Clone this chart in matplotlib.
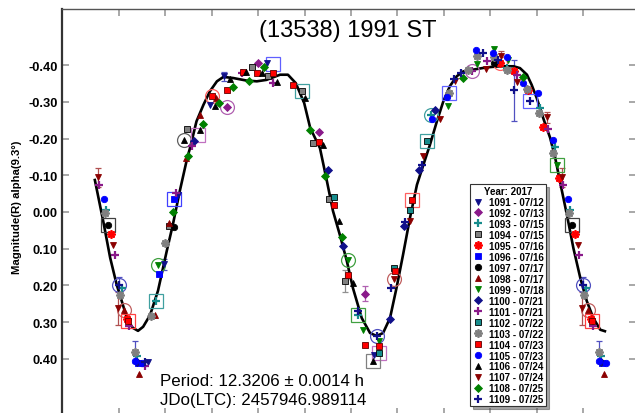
"""Phase-folded lightcurve of (13538) 1991 ST, MPO Canopus style."""
import numpy as np
import matplotlib
matplotlib.use("Agg")
import matplotlib.pyplot as plt  # noqa: E402
from matplotlib.lines import Line2D  # noqa: E402

plt.rcParams["font.family"] = ["Liberation Sans", "DejaVu Sans"]

# ---- data (phase 0..1, reduced R magnitude) ----
p1091 = [0.063, 0.096, 0.128, 0.196, 0.227, 0.318, 0.550]
m1091 = [0.409, 0.142, -0.045, -0.292, -0.370, -0.406, 0.390]
p1092 = [0.232, 0.300, 0.430, 0.530]
m1092 = [-0.285, -0.406, -0.218, 0.223]
p1093 = [0.672, 0.837, 0.907, 0.940, 0.972, 0.006, 0.038, 0.080, 0.516]
m1093 = [-0.263, -0.392, -0.283, -0.176, -0.006, 0.207, 0.393, 0.243, 0.280]
p1094 = [0.108, 0.146, 0.287, 0.322, 0.394, 0.419, 0.453, 0.487]
m1094 = [0.039, -0.227, -0.395, -0.370, -0.330, -0.188, -0.036, 0.189]
p1095 = [0.820, 0.851, 0.882, 0.914, 0.949, 0.983, 0.018]
m1095 = [-0.406, -0.383, -0.333, -0.231, -0.093, 0.060, 0.293]
p1096 = [0.041, 0.087, 0.119]
m1096 = [0.411, 0.169, -0.034]
p1097 = [0.119, 0.809, 0.977]
m1097 = [0.042, -0.406, 0.036]
p1098 = [0.011, 0.044, 0.078, 0.108, 0.144, 0.175, 0.209]
m1098 = [0.266, 0.443, 0.280, 0.030, -0.147, -0.265, -0.311]
p1099 = [0.083, 0.493, 0.525, 0.561, 0.708, 0.772, 0.807, 0.839, 0.943]
m1099 = [0.145, 0.130, 0.321, 0.352, -0.288, -0.403, -0.444, -0.415, -0.129]
p1100 = [0.038, 0.162, 0.450, 0.482, 0.583, 0.614, 0.647, 0.681]
m1100 = [0.409, -0.193, -0.113, 0.094, 0.293, 0.039, -0.115, -0.279]
p1101 = [0.022, 0.056, 0.123, 0.158, 0.264, 0.331, 0.760, 0.792, 0.857,
         0.925, 0.956, 0.991]
m1101 = [0.311, 0.420, -0.052, -0.179, -0.379, -0.351, -0.383, -0.412,
         -0.372, -0.227, -0.074, 0.116]
p1102 = [0.463, 0.561, 0.593, 0.626, 0.663]
m1102 = [-0.040, 0.384, 0.153, -0.004, -0.193]
p1103 = [0.002, 0.035, 0.070, 0.099, 0.712, 0.753, 0.772, 0.807, 0.837,
         0.880, 0.904, 0.936, 0.970]
m1103 = [0.225, 0.381, 0.284, 0.084, -0.324, -0.388, -0.424, -0.422, -0.388,
         -0.335, -0.270, -0.161, 0.003]
p1104 = [0.020, 0.200, 0.232, 0.267, 0.297, 0.331, 0.375, 0.430, 0.464,
         0.494, 0.529, 0.561, 0.595, 0.632]
m1104 = [0.296, -0.315, -0.331, -0.381, -0.379, -0.379, -0.345, -0.191,
         -0.020, 0.173, 0.363, 0.366, 0.160, -0.032]
p1105 = [0.034, 0.049, 0.674, 0.706, 0.770, 0.805, 0.837, 0.870, 0.902,
         0.936, 0.968]
m1105 = [0.407, 0.411, -0.252, -0.312, -0.442, -0.433, -0.422, -0.351,
         -0.324, -0.197, -0.035]
p1106 = [0.141, 0.175, 0.207, 0.239, 0.274, 0.308, 0.340, 0.400, 0.440,
         0.473, 0.505, 0.548]
m1106 = [-0.196, -0.222, -0.290, -0.361, -0.381, -0.379, -0.354, -0.310,
         -0.182, 0.024, 0.193, 0.405]
p1107 = [0.593, 0.626, 0.656, 0.692, 0.724, 0.791, 0.823, 0.857, 0.923,
         0.955, 0.988, 0.997]
m1107 = [0.184, 0.025, -0.152, -0.252, -0.356, -0.390, -0.424, -0.354,
         -0.258, -0.095, 0.089, 0.262]
p1108 = [0.116, 0.149, 0.182, 0.216, 0.246, 0.281, 0.313, 0.412, 0.444,
         0.480, 0.741, 0.871]
m1108 = [0.000, -0.153, -0.241, -0.297, -0.340, -0.358, -0.395, -0.224,
         -0.097, 0.069, -0.365, -0.367]
p1109 = [0.056, 0.514, 0.555, 0.586, 0.616, 0.652, 0.722, 0.738, 0.785,
         0.817, 0.851, 0.886, 0.999]
m1109 = [0.409, 0.269, 0.339, 0.207, 0.028, -0.129, -0.363, -0.379, -0.432,
         -0.415, -0.331, -0.302, 0.198]

# error bars: phase, mag, sigma, colour
err_phase = [0.955, 0.997, 0.999, 0.035, 0.096, 0.227, 0.487, 0.530, 0.851,
             0.823, 0.923]
err_mag = [-0.095, 0.262, 0.198, 0.381, 0.142, -0.370, 0.189, 0.223, -0.331,
           -0.424, -0.258]
err_sig = [0.026, 0.045, 0.020, 0.030, 0.015, 0.012, 0.030, 0.020, 0.083,
           0.015, 0.015]
err_col = ["#b05050", "#b05050", "#5050c0", "#5050c0", "#5050c0", "#5050c0",
           "#909090", "#b060b0", "#5050c0", "#b05050", "#b05050"]

# large open marks (first point of a session)
ring_phase = [0.999, 0.011, 0.020, 0.080, 0.083, 0.119, 0.141, 0.171, 0.200,
              0.232, 0.331, 0.394, 0.493, 0.516, 0.555, 0.561, 0.548, 0.593,
              0.632, 0.663, 0.672, 0.712, 0.760, 0.820, 0.886, 0.943, 0.977]
ring_mag = [0.198, 0.266, 0.296, 0.243, 0.145, -0.034, -0.196, -0.209, -0.315,
            -0.285, -0.403, -0.330, 0.130, 0.280, 0.339, 0.384, 0.405, 0.184,
            -0.032, -0.193, -0.263, -0.324, -0.383, -0.406, -0.302, -0.129,
            0.036]
ring_shape = ["o", "o", "s", "s", "o", "s", "o", "s", "o", "o", "s", "s", "o",
              "s", "o", "s", "s", "o", "s", "s", "o", "s", "o", "o", "s", "s",
              "s"]
ring_col = ["#5050c0", "#c06060", "#ff4040", "#40a0a0", "#40a040", "#4040ff",
            "#606060", "#c070c0", "#ff6060", "#b060b0", "#6060ff", "#40a0a0",
            "#40a040", "#40a040", "#5050c0", "#c070c0", "#808080", "#c06060",
            "#ff6060", "#40a0a0", "#40a0a0", "#6060ff", "#b060b0", "#ff6060",
            "#6060ff", "#40a040", "#404040"]

# Fourier fit
fit_phase = [-0.052, -0.034, -0.019, -0.005, 0.019, 0.030, 0.041, 0.052, 0.067,
             0.084, 0.103, 0.116, 0.131, 0.147, 0.153, 0.167, 0.182, 0.196,
             0.211, 0.225, 0.246, 0.275, 0.297, 0.318, 0.347, 0.364, 0.381,
             0.399, 0.412, 0.433, 0.448, 0.461, 0.476, 0.491, 0.504, 0.523,
             0.541, 0.555, 0.569, 0.584, 0.598, 0.612, 0.627, 0.642, 0.656,
             0.670, 0.685, 0.699, 0.713, 0.728, 0.742, 0.764, 0.792, 0.821,
             0.850, 0.864, 0.879, 0.889, 0.900, 0.914, 0.929, 0.940, 0.950,
             0.965, 0.979, 0.994, 1.008, 1.022, 1.037, 1.047]
fit_mag = [-0.087, 0.025, 0.125, 0.198, 0.297, 0.316, 0.324, 0.313, 0.281,
           0.215, 0.106, 0.035, -0.057, -0.147, -0.174, -0.247, -0.292, -0.329,
           -0.356, -0.368, -0.365, -0.358, -0.356, -0.360, -0.374, -0.374,
           -0.351, -0.297, -0.229, -0.174, -0.084, -0.003, 0.063, 0.134, 0.207,
           0.289, 0.330, 0.338, 0.330, 0.289, 0.207, 0.117, 0.016, -0.074,
           -0.129, -0.183, -0.247, -0.302, -0.343, -0.370, -0.383, -0.388,
           -0.394, -0.397, -0.397, -0.392, -0.374, -0.347, -0.311, -0.256,
           -0.202, -0.147, -0.084, 0.007, 0.098, 0.180, 0.243, 0.289, 0.321,
           0.325]

y_ticks = [-0.4, -0.3, -0.2, -0.1, 0.0, 0.1, 0.2, 0.3, 0.4]
y_labels = ["-0.40", "-0.30", "-0.20", "-0.10", "0.00", "0.10", "0.20",
            "0.30", "0.40"]

NAVY, PURPLE, TEAL, GREY = "#10108a", "#8a1a8a", "#168c8c", "#808080"
RED, BLUE, DRED, GREEN = "#ff0000", "#0000ff", "#8b0000", "#008000"

sessions = [
    ("1091 - 07/12", p1091, m1091, dict(marker="v", color=NAVY)),
    ("1092 - 07/13", p1092, m1092, dict(marker="D", color=PURPLE, ms=3.6)),
    ("1093 - 07/15", p1093, m1093, dict(marker="+", color=TEAL, mew=1.6, ms=6)),
    ("1094 - 07/15", p1094, m1094, dict(marker="s", color=GREY, mec="k")),
    ("1095 - 07/16", p1095, m1095, dict(marker=(8, 2, 0), color=RED, mew=1.3, ms=6)),
    ("1096 - 07/16", p1096, m1096, dict(marker="s", color=BLUE)),
    ("1097 - 07/17", p1097, m1097, dict(marker="o", color="k")),
    ("1098 - 07/17", p1098, m1098, dict(marker="^", color=DRED)),
    ("1099 - 07/18", p1099, m1099, dict(marker="v", color=GREEN)),
    ("1100 - 07/21", p1100, m1100, dict(marker="D", color=NAVY, ms=3.6)),
    ("1101 - 07/21", p1101, m1101, dict(marker="+", color=PURPLE, mew=1.6, ms=6)),
    ("1102 - 07/22", p1102, m1102, dict(marker="s", color=TEAL, mec="k")),
    ("1103 - 07/22", p1103, m1103, dict(marker=(8, 2, 0), color=GREY, mew=1.3, ms=6)),
    ("1104 - 07/23", p1104, m1104, dict(marker="s", color=RED, mec="#600000")),
    ("1105 - 07/23", p1105, m1105, dict(marker="o", color=BLUE)),
    ("1106 - 07/24", p1106, m1106, dict(marker="^", color="k")),
    ("1107 - 07/24", p1107, m1107, dict(marker="v", color=DRED)),
    ("1108 - 07/25", p1108, m1108, dict(marker="D", color=GREEN, ms=3.6)),
    ("1109 - 07/25", p1109, m1109, dict(marker="+", color=NAVY, mew=1.6, ms=6)),
]


def wrap_idx(ph):
    """Copies needed so the folded curve runs from -0.05 to 1.05."""
    out = []
    for i, p in enumerate(ph):
        out.append((i, p))
        if p >= 0.95:
            out.append((i, p - 1))
        if p < 0.05:
            out.append((i, p + 1))
    return out


def style(kw):
    out = dict(linestyle="none", ms=4.6, mew=0.6)
    out.update(kw)
    c = out.pop("color")
    out.setdefault("mfc", c)
    out.setdefault("mec", c)
    out["color"] = c
    return out


def main():
    W, H = 635, 414
    fig = plt.figure(figsize=(W / 100, H / 100), dpi=100)
    x0, x1, y0, y1 = 62, 636, 10, 416
    ax = fig.add_axes([x0 / W, 1 - y1 / H, (x1 - x0) / W, (y1 - y0) / H])

    # fit curve
    ax.plot(fit_phase, fit_mag, color="k", lw=1.9, zorder=3)

    # error bars
    for i, xp in wrap_idx(err_phase):
        ax.errorbar(xp, err_mag[i], yerr=err_sig[i], fmt="none",
                    ecolor=err_col[i], elinewidth=0.9, capsize=2.2,
                    capthick=0.9, zorder=2)

    # highlight rings
    for i, xp in wrap_idx(ring_phase):
        ax.plot(xp, ring_mag[i], linestyle="none", marker=ring_shape[i],
                ms=10 if ring_shape[i] == "o" else 9.5, mfc="none",
                mec=ring_col[i], mew=0.9, zorder=4)

    handles = []
    for label, ph, mg, kw in sessions:
        pairs = wrap_idx(ph)
        st = style(kw)
        ax.plot([p for _, p in pairs], [mg[i] for i, _ in pairs],
                zorder=5, **st)
        handles.append(Line2D([0], [0], label=label, **st))

    ax.set_xlim(-0.1228, 1.114)
    ax.set_ylim(0.5534, -0.5531)
    ax.set_xticks(np.arange(0, 1.01, 0.1))
    ax.set_xticklabels([])
    ax.set_yticks(y_ticks)
    ax.set_yticklabels(y_labels, fontweight="bold", fontsize=9.3)
    ax.tick_params(direction="in", length=5, width=1.2, color="#999999",
                   top=True, right=True, bottom=True, left=True, pad=3)
    for sp in ax.spines.values():
        sp.set_color("#555555")
        sp.set_linewidth(1.0)
    ax.spines["left"].set_linewidth(1.6)
    ax.spines["left"].set_color("#333333")
    fig.text(17 / W, 1 - 207 / H, "Magnitude(R) alpha(9.3°)", rotation=90,
             ha="center", va="center", fontweight="bold", fontsize=8.2)

    leg = ax.legend(handles=handles, title="Year: 2017", loc="upper left",
                    bbox_to_anchor=(470 / W, 1 - 185 / H),
                    bbox_transform=fig.transFigure,
                    title_fontsize=7.0, labelspacing=0.1, handlelength=1.2,
                    handletextpad=0.6, borderpad=0.2, borderaxespad=0,
                    fancybox=False, shadow=True, framealpha=1,
                    edgecolor="#333333", prop=dict(weight="bold", size=7.0))
    leg.get_title().set_fontweight("bold")
    leg.get_frame().set_linewidth(0.8)

    fig.text(348 / W, 1 - 31 / H, "(13538) 1991 ST", ha="center", va="center",
             fontsize=17)
    fig.text(160 / W, 1 - 382 / H, "Period: 12.3206 ± 0.0014 h", ha="left",
             va="center", fontsize=12.2)
    fig.text(160 / W, 1 - 401 / H, "JDo(LTC): 2457946.989114", ha="left",
             va="center", fontsize=12.2)

    fig.savefig("out.png", dpi=100)
    plt.close(fig)


if __name__ == "__main__":
    main()
